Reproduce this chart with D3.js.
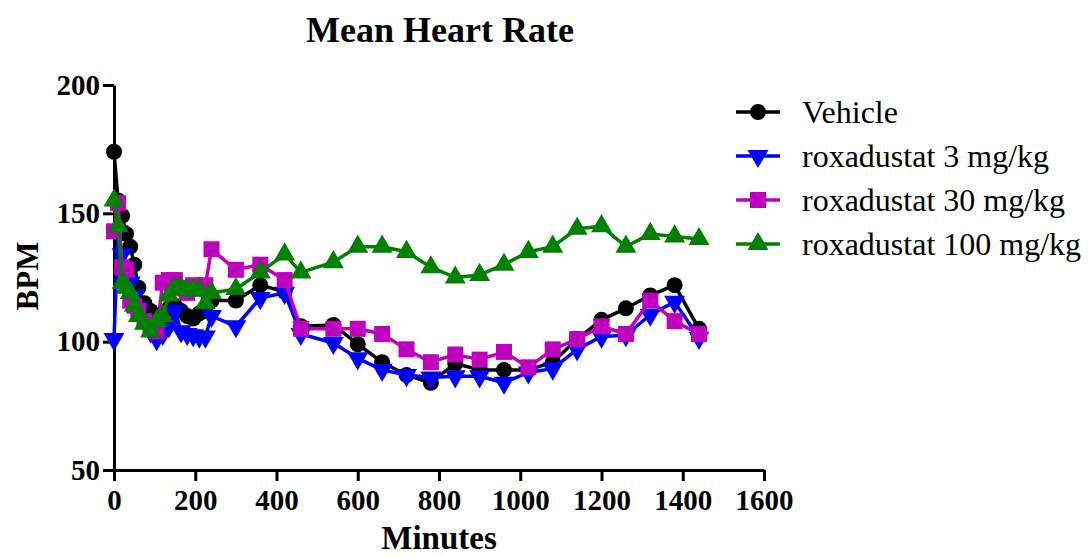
<!DOCTYPE html>
<html>
<head>
<meta charset="utf-8">
<script src="https://cdn.jsdelivr.net/npm/d3@7"></script>
<style>
  body { margin: 0; background: #fff; }
  svg { display: block; font-family: 'Liberation Serif', 'Times New Roman', serif; }
</style>
</head>
<body>
<svg id="chart" width="1088" height="558"></svg>
<script>
const minutes = [0, 10, 20, 30, 40, 50, 60, 75, 90, 105, 120, 135, 150, 165, 180, 195, 210, 225, 240,
  300, 360, 420, 460, 540, 600, 660, 720, 780, 840, 900, 960, 1020, 1080, 1140, 1200, 1260, 1320, 1380, 1440];

const vehicle = [174, 155, 149, 142, 137, 130, 121, 115, 112, 109, 110, 113, 114, 112, 110, 109, 111, 112, 116,
  116, 122, 119.5, 106, 106.5, 99, 92, 87, 84, 91.5, 89, 89, 89, 92, 101, 108.5, 113, 118, 122, 105];
const roxa3 = [101, 143, 134, 128, 123, 118, 113, 108, 104, 101, 103, 106, 112, 104, 103, 102.5, 102, 102, 110,
  106, 117, 119, 103, 99.5, 93.5, 89, 87, 86, 86.5, 86.5, 84, 88, 89.5, 97, 102, 102.5, 110.5, 115.5, 101.5];
const roxa30 = [143, 154, 129, 128, 116, 114, 112, 108, 105, 104, 123, 124, 124, 121, 119, 122, 121, 122, 136,
  128, 130, 124, 105, 105, 105, 103, 97, 92, 95, 93, 96, 90, 97, 101, 106, 103, 116, 108, 103];
const roxa100 = [155, 145, 123, 121, 119, 114, 110, 107, 104, 108, 110, 118, 121, 121, 120, 120, 120, 115, 119,
  120.5, 127, 134, 127, 131, 137, 137, 135, 129, 125, 126, 130, 135, 137, 144, 145, 137, 142, 141, 140];

const seriesNames = ['Vehicle', 'roxadustat 3 mg/kg', 'roxadustat 30 mg/kg', 'roxadustat 100 mg/kg'];
const xTicks = [0, 200, 400, 600, 800, 1000, 1200, 1400, 1600];
const yTicks = [50, 100, 150, 200];

const series = [
  { name: seriesNames[0], values: vehicle, color: '#000000', shape: 'circle' },
  { name: seriesNames[1], values: roxa3, color: '#0000ff', shape: 'down' },
  { name: seriesNames[2], values: roxa30, color: '#bf00bf', shape: 'square' },
  { name: seriesNames[3], values: roxa100, color: '#008000', shape: 'up' }
];

const svg = d3.select('#chart');
const x = d3.scaleLinear().domain([0, 1600]).range([114, 764]);
const y = d3.scaleLinear().domain([50, 200]).range([470, 85]);

// marker path per shape
function marker(shape) {
  if (shape === 'circle') return d3.symbol(d3.symbolCircle, 200)();
  if (shape === 'square') return d3.symbol(d3.symbolSquare, 256)();
  return d3.symbol(d3.symbolTriangle, 190)();
}
function markerTransform(shape, px, py) {
  return shape === 'down' ? `translate(${px},${py}) rotate(180)` : `translate(${px},${py})`;
}

// axes
const xAxis = svg.append('g')
  .attr('transform', `translate(0,${y(50)})`)
  .call(d3.axisBottom(x).tickValues(xTicks).tickFormat(d3.format('d'))
    .tickSize(11).tickSizeOuter(0).tickPadding(8));
const yAxis = svg.append('g')
  .attr('transform', `translate(${x(0)},0)`)
  .call(d3.axisLeft(y).tickValues(yTicks).tickFormat(d3.format('d'))
    .tickSize(11).tickSizeOuter(0).tickPadding(3));

[xAxis, yAxis].forEach((g) => {
  g.select('.domain').attr('stroke-width', 3).attr('stroke', '#000');
  g.selectAll('.tick line').attr('stroke-width', 3).attr('stroke', '#000');
  g.selectAll('.tick text')
    .attr('fill', '#000')
    .style('font-family', "'Liberation Serif', serif")
    .style('font-weight', 'bold')
    .style('font-size', '29px');
});

// series lines + markers
const line = d3.line()
  .x((d, i) => x(minutes[i]))
  .y((d) => y(d));

series.forEach((s) => {
  const g = svg.append('g');
  g.append('path')
    .attr('d', line(s.values))
    .attr('fill', 'none')
    .attr('stroke', s.color)
    .attr('stroke-width', 3.5)
    .attr('stroke-linejoin', 'round');
  g.selectAll('path.pt')
    .data(s.values)
    .enter()
    .append('path')
    .attr('class', 'pt')
    .attr('d', marker(s.shape))
    .attr('transform', (d, i) => markerTransform(s.shape, x(minutes[i]), y(d)))
    .attr('fill', s.color);
});

// title and axis titles
svg.append('text')
  .attr('x', 440)
  .attr('y', 42)
  .attr('text-anchor', 'middle')
  .style('font-weight', 'bold')
  .style('font-size', '36px')
  .text('Mean Heart Rate');

svg.append('text')
  .attr('x', 439)
  .attr('y', 549)
  .attr('text-anchor', 'middle')
  .style('font-weight', 'bold')
  .style('font-size', '33px')
  .text('Minutes');

svg.append('text')
  .attr('transform', 'translate(38,276) rotate(-90)')
  .attr('text-anchor', 'middle')
  .style('font-weight', 'bold')
  .style('font-size', '31px')
  .text('BPM');

// legend
const legend = svg.append('g');
series.forEach((s, i) => {
  const ly = 112 + i * 44;
  legend.append('line')
    .attr('x1', 736).attr('x2', 780)
    .attr('y1', ly).attr('y2', ly)
    .attr('stroke', s.color)
    .attr('stroke-width', 3.5);
  legend.append('path')
    .attr('d', marker(s.shape))
    .attr('transform', markerTransform(s.shape, 758, ly))
    .attr('fill', s.color);
  legend.append('text')
    .attr('x', 802)
    .attr('y', ly + 11)
    .style('font-size', '32px')
    .text(s.name);
});
</script>
</body>
</html>
